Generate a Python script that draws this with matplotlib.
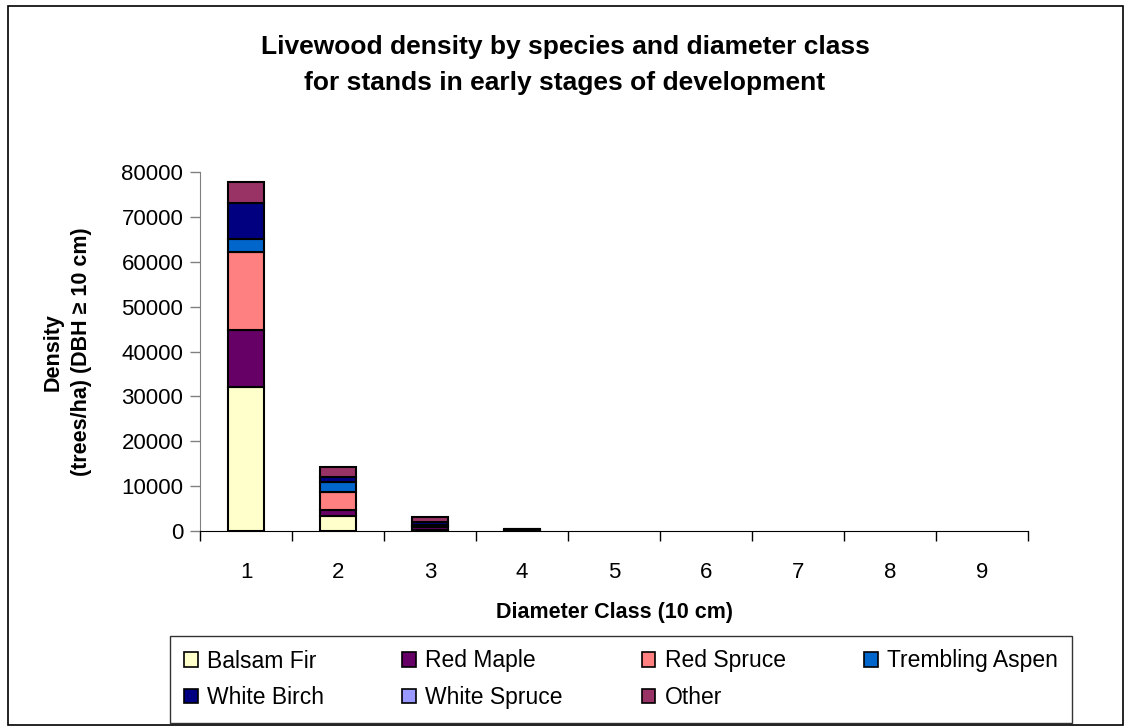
import numpy as np
import matplotlib.pyplot as plt
from matplotlib.patches import Rectangle

plt.rcParams['font.family'] = ['Liberation Sans', 'DejaVu Sans']

classes = ['1', '2', '3', '4', '5', '6', '7', '8', '9']
species = ['Balsam Fir', 'Red Maple', 'Red Spruce', 'Trembling Aspen',
           'White Birch', 'White Spruce', 'Other']
colors = ['#FFFFCC', '#660066', '#FF8080', '#0066CC', '#000080', '#9999FF', '#993366']

balsam_fir = [32000, 3400, 300, 100, 0, 0, 0, 0, 0]
red_maple = [12800, 1300, 500, 50, 0, 0, 0, 0, 0]
red_spruce = [17300, 3900, 400, 100, 0, 0, 0, 0, 0]
trembling_aspen = [3000, 2250, 200, 50, 0, 0, 0, 0, 0]
white_birch = [8000, 1250, 500, 50, 0, 0, 0, 0, 0]
white_spruce = [0, 0, 0, 0, 0, 0, 0, 0, 0]
other = [4700, 2200, 1300, 50, 0, 0, 0, 0, 0]

series = [balsam_fir, red_maple, red_spruce, trembling_aspen,
          white_birch, white_spruce, other]

fig = plt.figure(figsize=(11.3, 7.27), dpi=100)
ax = fig.add_axes([200/1130, 1-531/727, 828/1130, 359/727])

x = np.arange(1, len(classes)+1)
bottom = np.zeros(len(classes))
handles = []
for name, vals, c in zip(species, series, colors):
    vals = np.array(vals, dtype=float)
    # no outline on empty segments
    lw = np.where(vals > 0, 1.5, 0)
    b = ax.bar(x, vals, 0.4, bottom=bottom, color=c, edgecolor='black',
               linewidth=lw, label=name)
    handles.append(b)
    bottom += vals

ax.set_xlim(0.5, len(classes)+0.5)
ax.set_ylim(0, 80000)
ax.set_yticks(np.arange(0, 80001, 10000))
ax.set_xticks(x)
ax.set_xticklabels(classes)
ax.set_xticks(np.arange(0.5, len(classes)+1, 1), minor=True)
ax.tick_params(axis='x', which='major', length=0, pad=22, labelsize=16)
ax.tick_params(axis='x', which='minor', length=7, width=1, color='black')
ax.tick_params(axis='y', length=7, width=1, labelsize=16, color='gray', pad=5)
for s in ['top', 'right']:
    ax.spines[s].set_visible(False)
ax.spines['left'].set_color('gray')
ax.spines['bottom'].set_color('black')

ax.set_xlabel('Diameter Class (10 cm)', fontsize=15.5, fontweight='bold', labelpad=14)
fig.text(67/1130, 1-352/727, 'Density\n(trees/ha) (DBH \u2265 10 cm)',
         rotation=90, ha='center', va='center', fontsize=15.5,
         fontweight='bold', linespacing=1.45)

fig.text(0.5, 1-65/727, 'Livewood density by species and diameter class\n'
         'for stands in early stages of development',
         ha='center', va='center', fontsize=19, fontweight='bold', linespacing=1.6)

# legend fills row by row in the reference
order = [0, 4, 1, 5, 2, 6, 3]
leg = fig.legend(handles=[handles[i] for i in order],
                 labels=[species[i] for i in order], ncol=4, loc='lower left',
                 bbox_to_anchor=(170/1130, 1-723/727, 902/1130, 86/727),
                 mode='expand', fontsize=16.5, frameon=True, fancybox=False,
                 handlelength=0.6, handleheight=0.6, handletextpad=0.4,
                 borderaxespad=0, borderpad=0.6, labelspacing=0.6)
leg.get_frame().set_edgecolor('black')
leg.get_frame().set_linewidth(1)
for h in leg.legend_handles:
    h.set_edgecolor('black')
    h.set_linewidth(1.2)

fig.patches.append(Rectangle((8/1130, 2/727), 1115/1130, 719/727,
                             transform=fig.transFigure, fill=False,
                             edgecolor='black', linewidth=1.2))

fig.savefig('out.png', dpi=100)
